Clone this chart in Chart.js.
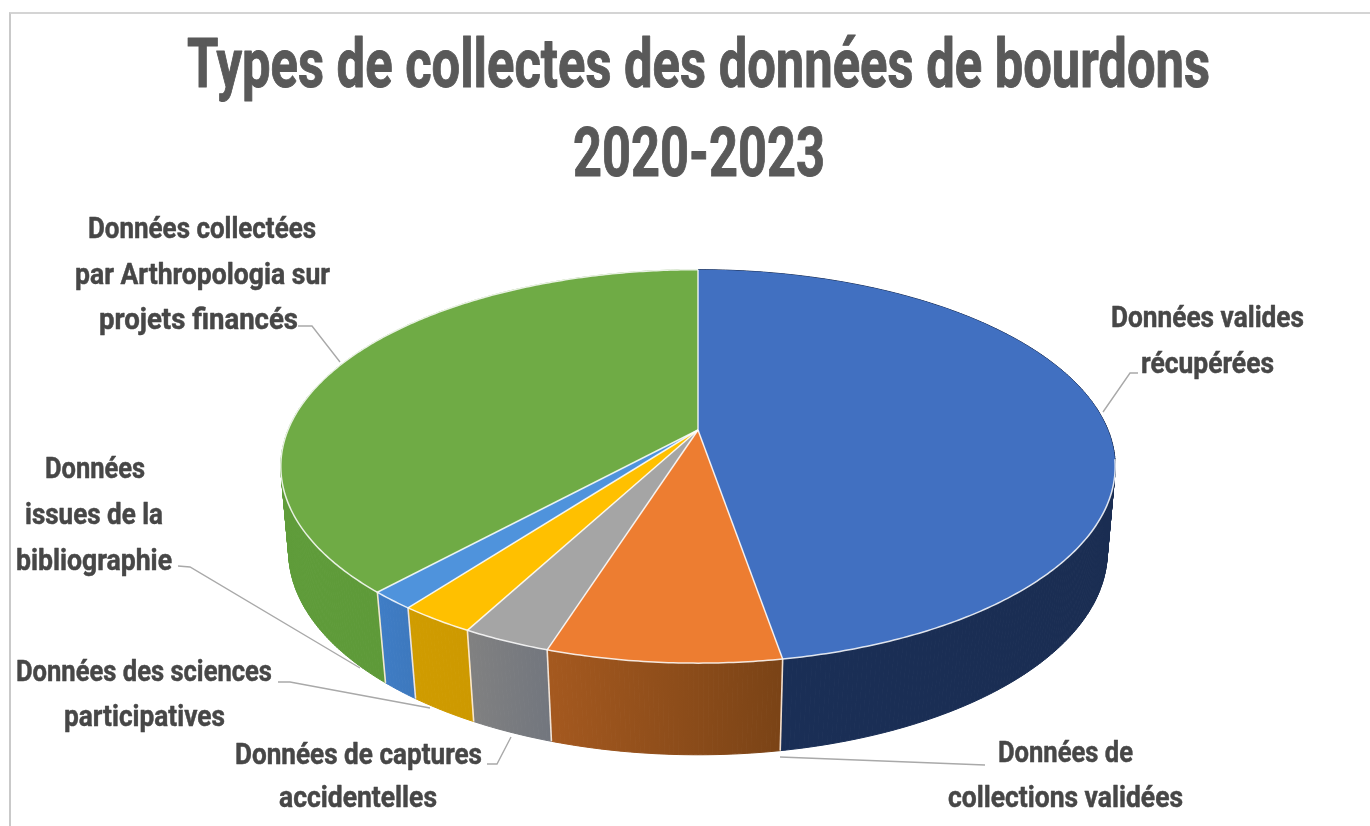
<!DOCTYPE html>
<html lang="fr">
<head>
  <meta charset="UTF-8" />
  <title>Types de collectes des données de bourdons</title>
  <script src="https://cdn.jsdelivr.net/npm/chart.js"></script>
  <style>
    html, body { margin: 0; background: #fff; overflow: hidden; }
    #frame { position: absolute; left: 9px; top: 12px; width: 1378px; height: 830px;
             border-left: 2px solid #c9c9c9; border-top: 2px solid #d4d4d4; }
    canvas { display: block; filter: blur(0.5px); }
  </style>
</head>
<body>
  <div id="frame"><canvas id="pie" width="1378" height="830"></canvas></div>

  <script>
    const categories = [
      'Données valides récupérées',
      'Données de collections validées',
      'Données de captures accidentelles',
      'Données des sciences participatives',
      'Données issues de la bibliographie',
      'Données collectées par Arthropologia sur projets financés'
    ];
    const shares = [47.3, 7.6, 2.9, 2.5, 1.5, 38.2];

    const topColors = ['#4170c1', '#ed7d31', '#a5a5a5', '#ffc000', '#4f93dc', '#6fab45'];
    const wallLeft = ['#1a2f57', '#a5591f', '#818181', '#d09c00', '#3f7dc6', '#5f9c3a'];
    const wallRight = ['#1a2d52', '#7a4316', '#72767e', '#cd9900', '#3d78bd', '#5a9334'];

    // text, page x of the left edge, page baseline, width to fit
    const titleRows = [
      ['Types de collectes des données de bourdons', 187, 87, 1023],
      ['2020-2023', 573, 176, 252]
    ];
    const labelRows = [
      ['Données collectées', 88, 238, 228], ['par Arthropologia sur', 75, 284, 255], ['projets financés', 99, 329, 199],
      ['Données valides', 1111, 327, 193], ['récupérées', 1141, 373, 133],
      ['Données', 45, 478, 100], ['issues de la', 25, 524, 138], ['bibliographie', 16, 570, 156],
      ['Données des sciences', 16, 681, 256], ['participatives', 64, 726, 161],
      ['Données de captures', 235, 764, 247], ['accidentelles', 279, 807, 158],
      ['Données de', 998, 762, 135], ['collections validées', 948, 807, 235]
    ];
    const leaders = [
      [[298, 326], [312, 326], [340, 362]],
      [[1138, 373], [1130, 373], [1103, 412]],
      [[178, 566], [190, 567], [360, 668]],
      [[278, 682], [290, 682], [430, 708]],
      [[487, 764], [497, 764], [511, 737]],
      [[780, 757], [985, 765]]
    ];

    // the frame sits at 11,14 on the page
    const OX = 11, OY = 14;
    const discTop = { x: 698, y: 430, a: 190, b: 410, p: 0.185 };
    const discBottom = { x: 698, y: 516, a: 197, b: 403, p: 0.175 };
    const FONT = 'Roboto, "Liberation Sans", sans-serif';

    function project(d, angle) {
      const X = Math.cos(angle), Y = Math.sin(angle), w = 1 - d.p * Y;
      return [d.x + d.b * X / w - OX, d.y + d.a * Y / w - OY];
    }

    function arcPoints(d, start, end) {
      const pts = [], n = Math.max(2, Math.ceil((end - start) / 0.01));
      for (let i = 0; i <= n; i++) pts.push(project(d, start + (end - start) * i / n));
      return pts;
    }

    // squeeze a row of text to the condensed width it has in the picture
    function drawRows(ctx, rows, size, color, bold) {
      ctx.font = 'bold ' + size + 'px ' + FONT;
      ctx.fillStyle = color;
      ctx.strokeStyle = color;
      ctx.lineWidth = bold;
      ctx.lineJoin = 'round';
      ctx.textAlign = 'left';
      ctx.textBaseline = 'alphabetic';
      rows.forEach(r => {
        const k = r[3] / ctx.measureText(r[0]).width;
        ctx.save();
        ctx.translate(r[1] - OX, r[2] - OY);
        ctx.scale(k, 1);
        ctx.fillText(r[0], 0, 0);
        ctx.strokeText(r[0], 0, 0);
        ctx.restore();
      });
    }

    const pie3d = {
      id: 'pie3d',
      beforeDatasetsDraw(chart) {
        const ctx = chart.ctx, arcs = chart.getDatasetMeta(0).data;
        ctx.save();
        ctx.lineJoin = 'round';

        // side walls, swept in small strips so the outline follows both discs
        arcs.forEach((el, i) => {
          const top = arcPoints(discTop, el.startAngle, el.endAngle);
          const bot = arcPoints(discBottom, el.startAngle, el.endAngle);
          const xs = top.concat(bot).map(p => p[0]);
          const g = ctx.createLinearGradient(Math.min(...xs), 0, Math.max(...xs), 0);
          g.addColorStop(0, wallLeft[i]);
          g.addColorStop(1, wallRight[i]);
          ctx.fillStyle = g;
          ctx.strokeStyle = g;
          ctx.lineWidth = 1;
          for (let k = 0; k < top.length - 1; k++) {
            ctx.beginPath();
            ctx.moveTo(...top[k]);
            ctx.lineTo(...top[k + 1]);
            ctx.lineTo(...bot[k + 1]);
            ctx.lineTo(...bot[k]);
            ctx.closePath();
            ctx.fill();
            ctx.stroke();
          }
        });

        // pale edges between the walls
        ctx.strokeStyle = 'rgba(255,240,225,0.9)';
        ctx.lineWidth = 1.6;
        arcs.forEach((el, i) => {
          if (i === arcs.length - 1) return;
          ctx.beginPath();
          ctx.moveTo(...project(discTop, el.endAngle));
          ctx.lineTo(...project(discBottom, el.endAngle));
          ctx.stroke();
        });

        // top face
        const cx = discTop.x - OX, cy = discTop.y - OY;
        arcs.forEach((el, i) => {
          ctx.beginPath();
          ctx.moveTo(cx, cy);
          arcPoints(discTop, el.startAngle, el.endAngle).forEach(p => ctx.lineTo(...p));
          ctx.closePath();
          ctx.fillStyle = topColors[i];
          ctx.fill();
        });
        ctx.strokeStyle = 'rgba(255,255,255,0.85)';
        ctx.lineWidth = 1.5;
        arcs.forEach(el => {
          ctx.beginPath();
          ctx.moveTo(cx, cy);
          ctx.lineTo(...project(discTop, el.startAngle));
          ctx.stroke();
          if (el.endAngle > 0.15 && el.startAngle < Math.PI * 1.02) {
            ctx.beginPath();
            arcPoints(discTop, Math.max(el.startAngle, 0.15), el.endAngle).forEach((p, k) => k ? ctx.lineTo(...p) : ctx.moveTo(...p));
            ctx.stroke();
          }
        });

        ctx.restore();
        return false;
      },
      afterDraw(chart) {
        const ctx = chart.ctx;
        ctx.save();
        ctx.strokeStyle = '#a9a9a9';
        ctx.lineWidth = 1.4;
        leaders.forEach(line => {
          ctx.beginPath();
          line.forEach((p, k) => k ? ctx.lineTo(p[0] - OX, p[1] - OY) : ctx.moveTo(p[0] - OX, p[1] - OY));
          ctx.stroke();
        });
        drawRows(ctx, titleRows, 68, '#595959', 1);
        drawRows(ctx, labelRows, 30, '#474747', 0.5);
        ctx.restore();
      }
    };

    new Chart(document.getElementById('pie'), {
      type: 'pie',
      data: {
        labels: categories,
        datasets: [{ data: shares, backgroundColor: topColors, borderWidth: 0 }]
      },
      options: {
        responsive: false,
        animation: false,
        plugins: {
          legend: { display: false },
          tooltip: { enabled: false }
        }
      },
      plugins: [pie3d]
    });
  </script>
</body>
</html>
